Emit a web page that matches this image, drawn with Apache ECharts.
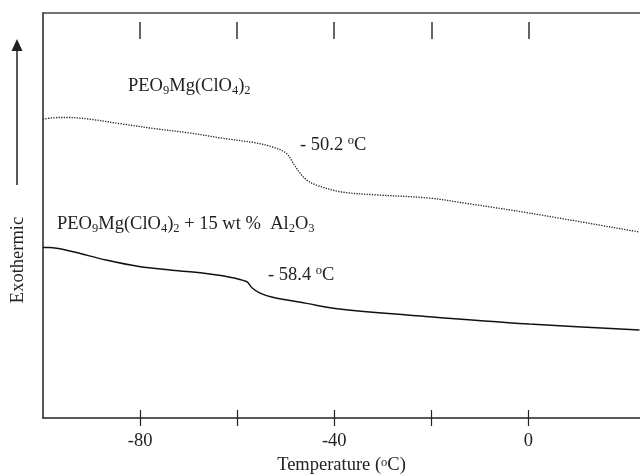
<!DOCTYPE html>
<html>
<head>
<meta charset="utf-8">
<script src="https://cdn.jsdelivr.net/npm/echarts@6/dist/echarts.min.js"></script>
<style>
  html, body { margin: 0; padding: 0; background: #fff; }
  #chart { width: 640px; height: 475px; }
</style>
</head>
<body>
<div id="chart"></div>
<script>
// temperature (°C) readings of the two DSC traces, y in arbitrary units (0..100)
const pureTemp = [-100, -96.6, -94.6, -90.5, -83.7, -76.7, -69.9, -63.1, -56.1, -52.7, -49.9, -48.6, -47.2, -45.7, -43.7, -38.4, -31.4, -20.4, -12.8, 0.2, 22.9]
const pureHeat = [73.8, 74.2, 74.2, 73.8, 72.6, 71.4, 70.4, 69.1, 67.9, 66.9, 65.4, 63.2, 60.7, 58.8, 57.5, 55.8, 55.1, 54.3, 53.0, 50.6, 45.9]
const compTemp = [-100, -98.7, -94.0, -87.0, -80.2, -73.4, -66.4, -63.0, -58.1, -56.9, -55.4, -52.7, -45.7, -38.9, -20.4, 0.2, 22.9]
const compHeat = [42.1, 42.1, 41.1, 39.0, 37.4, 36.5, 35.7, 35.1, 33.7, 32.1, 30.9, 29.8, 28.3, 26.9, 25.0, 23.2, 21.7]

const tickValues = [-80, -60, -40, -20, 0]
const labelValues = [-80, -40, 0]

const font = 'Liberation Serif'
const ink = '#222'
const fs = 18.5

const zip = (xs, ys) => xs.map((x, i) => [x, ys[i]])

const richText = {
  n: { fontFamily: font, fontSize: fs, color: ink, lineHeight: 22, verticalAlign: 'middle' },
  sub: { fontFamily: font, fontSize: 12.5, color: ink, lineHeight: 12, verticalAlign: 'bottom' },
  sup: { fontFamily: font, fontSize: 12.5, color: ink, lineHeight: 12, verticalAlign: 'top' }
}

const textAt = (left, top, text) => ({
  type: 'text', left, top,
  style: { text, rich: richText, font: fs + 'px ' + font, fill: ink }
})

const mChart = echarts.init(document.getElementById('chart'))

const axisBase = {
  type: 'value', min: -100, max: 23,
  splitLine: { show: false },
  axisLabel: { show: false },
  axisTick: { show: false },
  axisLine: { show: false }
}

const options = {
  animation: false,
  grid: { left: 43, right: 0, top: 13, bottom: 57, outerBoundsMode: 'none' },
  xAxis: [
    {
      ...axisBase,
      position: 'bottom',
      axisLine: { show: true, onZero: false, lineStyle: { color: ink, width: 1.5 } },
      axisTick: { show: true, customValues: tickValues, length: 8, lineStyle: { color: ink, width: 1.2 } },
      axisLabel: { show: true, customValues: labelValues, margin: 14, fontFamily: font, fontSize: fs, color: ink },
      name: 'Temperature ({sup|o}C)',
      nameLocation: 'middle',
      nameGap: 37,
      nameTextStyle: { fontFamily: font, fontSize: fs, color: ink, rich: richText }
    },
    {
      ...axisBase,
      position: 'bottom',
      axisTick: { show: true, inside: true, customValues: tickValues, length: 8, lineStyle: { color: ink, width: 1.2 } }
    },
    {
      ...axisBase,
      position: 'top',
      axisLine: { show: true, onZero: false, lineStyle: { color: '#444', width: 1.5 } }
    },
    {
      ...axisBase,
      position: 'top',
      offset: -9,
      axisTick: { show: true, inside: true, customValues: tickValues, length: 17, lineStyle: { color: '#333', width: 1.5 } }
    }
  ],
  yAxis: {
    type: 'value', min: 0, max: 100,
    splitLine: { show: false },
    axisLabel: { show: false },
    axisTick: { show: false },
    axisLine: { show: true, onZero: false, lineStyle: { color: ink, width: 1.5 } }
  },
  series: [
    {
      type: 'line',
      data: zip(pureTemp, pureHeat),
      smooth: 0.35,
      showSymbol: false,
      lineStyle: { color: '#222', width: 1.3, type: [1.3, 1.3] }
    },
    {
      type: 'line',
      data: zip(compTemp, compHeat),
      smooth: 0.35,
      showSymbol: false,
      lineStyle: { color: '#111', width: 1.5 }
    }
  ],
  graphic: [
    textAt(128, 77, '{n|PEO}{sub|9}{n|Mg(ClO}{sub|4}{n|)}{sub|2}'),
    textAt(300, 134, '{n|- 50.2 }{sup|o}{n|C}'),
    textAt(57, 215, '{n|PEO}{sub|9}{n|Mg(ClO}{sub|4}{n|)}{sub|2}{n| + 15 wt %  Al}{sub|2}{n|O}{sub|3}'),
    textAt(268, 264, '{n|- 58.4 }{sup|o}{n|C}'),
    {
      type: 'text', x: 18, y: 260, rotation: Math.PI / 2,
      style: { text: 'Exothermic', font: fs + 'px ' + font, fill: ink, align: 'center', verticalAlign: 'middle' }
    },
    {
      type: 'line',
      shape: { x1: 17, y1: 185, x2: 17, y2: 48 },
      style: { stroke: ink, lineWidth: 1.5 }
    },
    {
      type: 'polygon',
      shape: { points: [[11.5, 51], [22.5, 51], [17, 39]] },
      style: { fill: ink }
    }
  ]
}

mChart.setOption(options)
</script>
</body>
</html>
